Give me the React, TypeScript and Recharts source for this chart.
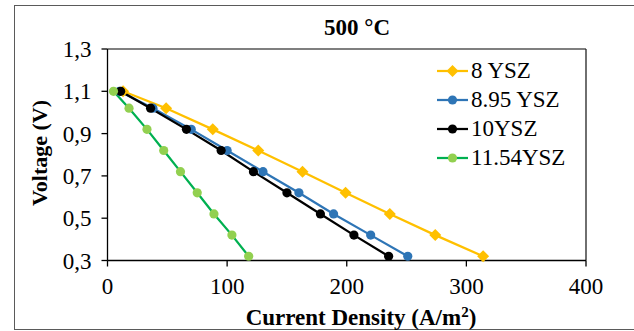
import React from "react";
import { Legend, Line, LineChart, ReferenceLine, XAxis, YAxis } from "recharts";

const voltage = [1.1, 1.02, 0.92, 0.82, 0.72, 0.62, 0.52, 0.42, 0.32];
const ysz8 = [13, 49, 88, 126, 163, 199, 236, 274, 314];
const ysz895 = [10, 38, 70, 100, 130, 160, 189, 220, 251];
const ysz10 = [11, 36, 66, 95, 122, 150, 178, 206, 235];
const ysz1154 = [5, 18, 33, 47, 61, 75, 89, 104, 118];

const xTicks = [0, 100, 200, 300, 400];
const yTicks = [0.3, 0.5, 0.7, 0.9, 1.1, 1.3];

const toPoints = (xs: number[]) => xs.map((x, i) => ({ x, v: voltage[i] }));

const series = [
  { name: "8 YSZ", data: toPoints(ysz8), line: "#FFC000", fill: "#FFC000", shape: "diamond" },
  { name: "8.95 YSZ", data: toPoints(ysz895), line: "#2E75B6", fill: "#2E75B6", shape: "circle" },
  { name: "10YSZ", data: toPoints(ysz10), line: "#000000", fill: "#000000", shape: "circle" },
  { name: "11.54YSZ", data: toPoints(ysz1154), line: "#00B050", fill: "#92D050", shape: "circle" },
];

const FONT = "Liberation Serif, Times New Roman, serif";

function Marker({ cx, cy, shape, fill }: any) {
  if (cx == null || cy == null) return null;
  if (shape === "diamond") {
    const s = 6;
    return <path d={`M${cx},${cy - s}L${cx + s},${cy}L${cx},${cy + s}L${cx - s},${cy}Z`} fill={fill} />;
  }
  return <circle cx={cx} cy={cy} r={4.6} fill={fill} />;
}

function renderLegend() {
  return (
    <div style={{ fontFamily: FONT, fontSize: 23, lineHeight: "29px", color: "#000", textAlign: "left" }}>
      {series.map((s) => (
        <div key={s.name} style={{ display: "flex", alignItems: "center", height: 29 }}>
          <svg width={34} height={14} style={{ marginRight: 1 }}>
            <line x1={1} y1={7} x2={32} y2={7} stroke={s.line} strokeWidth={2.25} />
            <Marker cx={16.5} cy={7} shape={s.shape} fill={s.fill} />
          </svg>
          <span>{s.name}</span>
        </div>
      ))}
    </div>
  );
}

function YLabel() {
  return (
    <text x={47} y={153} transform="rotate(-90 47 153)" textAnchor="middle"
          fontFamily={FONT} fontSize={22} fontWeight="bold" fill="#000">
      Voltage (V)
    </text>
  );
}

function XLabel() {
  return (
    <text x={361} y={325} textAnchor="middle" fontFamily={FONT} fontSize={23} fontWeight="bold" fill="#000">
      Current Density (A/m<tspan dy={-8} fontSize={15}>2</tspan><tspan dy={8}>)</tspan>
    </text>
  );
}

export default function App() {
  return (
    <div style={{ position: "absolute", left: 0, top: 0, width: 634, height: 331, overflow: "hidden", background: "#fff" }}>
      <div style={{ position: "absolute", left: 14, top: 5, width: 640, height: 323, border: "1.5px solid #5a5a5a" }} />
      <div style={{ position: "absolute", left: 257, top: 16, width: 200, textAlign: "center", fontFamily: FONT,
                    fontSize: 23, fontWeight: "bold", lineHeight: "23px" }}>
        500 °C
      </div>
      <div style={{ position: "absolute", left: 0, top: 0 }}>
        <LineChart width={634} height={331} margin={{ top: 49, right: 48, bottom: 0, left: 0 }}
                   style={{ fontFamily: FONT }}>
          <XAxis type="number" dataKey="x" domain={[0, 400]} ticks={xTicks} allowDuplicatedCategory={false}
                 height={70.5} tickSize={6} tickMargin={11} stroke="#000" strokeWidth={1.3}
                 tick={{ fontSize: 23, fill: "#000", fontFamily: FONT }} label={<XLabel />} />
          <YAxis type="number" dataKey="v" domain={[0.3, 1.3]} ticks={yTicks} width={107.5}
                 tickSize={6} tickMargin={10} stroke="#000" strokeWidth={1.3}
                 tickFormatter={(v: number) => v.toFixed(1).replace(".", ",")}
                 tick={{ fontSize: 23, fill: "#000", fontFamily: FONT }} label={<YLabel />} />
          <ReferenceLine y={1.3} stroke="#555" strokeWidth={1.3} />
          <ReferenceLine x={400} stroke="#222" strokeWidth={1.3} />
          {series.map((s) => (
            <Line key={s.name} name={s.name} data={s.data} dataKey="v" type="linear" stroke={s.line}
                  strokeWidth={2.25} isAnimationActive={false} legendType="none"
                  dot={(p: any) => <Marker key={p.index} cx={p.cx} cy={p.cy} shape={s.shape} fill={s.fill} />}
                  activeDot={false} />
          ))}
          <Legend layout="vertical" verticalAlign="middle" align="center" content={renderLegend}
                  wrapperStyle={{ top: 56, left: 436, width: 150 }} />
        </LineChart>
      </div>
    </div>
  );
}
